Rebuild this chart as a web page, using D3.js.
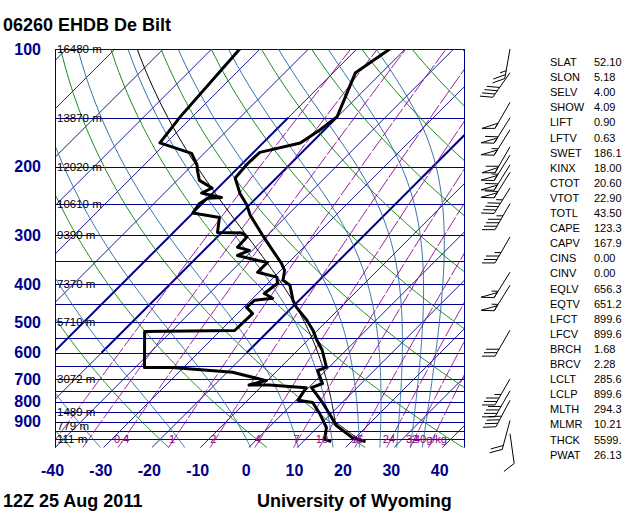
<!DOCTYPE html>
<html>
<head>
<meta charset="utf-8">
<script src="https://cdn.jsdelivr.net/npm/d3@7"></script>
<style>
  body { margin: 0; background: #fff; }
  text { font-family: "Liberation Sans", Arial, Helvetica, sans-serif; }
</style>
</head>
<body>
<svg id="chart" width="640" height="512"></svg>
<script>
// sounding 06260 De Bilt, 12Z 25 Aug 2011
var tempPres = [1013, 990, 922, 858, 804, 737, 719, 666, 654, 590, 557, 525, 495, 459, 440, 403, 391, 369, 354, 328, 300, 266, 251, 234, 214, 196, 184, 174, 161, 149, 115, 100];
var tempVals = [22.9, 19.4, 13.6, 9.6, 5.9, 0.6, 2.0, -1.7, -0.5, -5.0, -8.1, -11.0, -14.3, -19.1, -21.3, -25.0, -27.5, -29.2, -31.3, -35.8, -41.0, -47.8, -50.5, -54.4, -58.5, -58.9, -58.7, -52.3, -50.9, -50.1, -55.4, -53.2];

var dwptPres = [1013, 1000, 932, 858, 804, 794, 737, 725, 725, 707, 673, 654, 654, 529, 526, 476, 459, 440, 435, 423, 398, 384, 373, 352, 348, 338, 328, 322, 303, 296, 295, 270, 263, 249, 241, 240, 234, 227, 217, 204, 198, 185, 174, 149, 100];
var dwptVals = [15.8, 14.0, 11.9, 7.6, 3.9, 0.4, -0.5, -8.7, -12.9, -10.2, -18.9, -32.3, -38.1, -45.5, -27.1, -26.9, -29.4, -29.2, -25.9, -28.6, -28.0, -29.4, -34.4, -34.4, -36.8, -42.0, -40.6, -43.7, -43.9, -45.7, -50.9, -53.6, -60.0, -60.6, -60.0, -57.3, -62.3, -61.2, -65.4, -68.0, -69.1, -72.6, -81.3, -82.5, -84.2];

var windPres = [100, 115, 137, 150, 161, 178, 187, 198, 207, 227, 249, 303, 373, 403, 525, 700, 751, 794, 894, 967];
var windDir  = [190, 215, 210, 212, 212, 210, 212, 212, 212, 212, 210, 210, 212, 212, 210, 210, 210, 208, 195, 172];
var windKt   = [25, 40, 50, 60, 55, 60, 55, 60, 60, 45, 45, 35, 55, 55, 30, 35, 40, 40, 20, 10];

var presTicks = [100, 200, 300, 400, 500, 600, 700, 800, 900];
var tempTicks = [-40, -30, -20, -10, 0, 10, 20, 30, 40];
var hgtPres   = [100, 150, 200, 250, 300, 400, 500, 700, 850, 925, 1000];
var hgtLabels = ["16480 m", "13870 m", "12020 m", "10610 m", "9390 m", "7370 m", "5710 m", "3072 m", "1489 m", "779 m", "111 m"];
var mixRatios = [0.1, 0.2, 0.4, 1, 2, 4, 7, 10, 16, 24, 32, 40];
var mixLabels = ["", "", "0.4", "1", "2", "4", "7", "10", "16", "24", "32", "40g/kg"];
var boldIsotherms = [-60, -50, -20];

var statNames  = ["SLAT", "SLON", "SELV", "SHOW", "LIFT", "LFTV", "SWET", "KINX", "CTOT", "VTOT", "TOTL", "CAPE", "CAPV", "CINS", "CINV", "EQLV", "EQTV", "LFCT", "LFCV", "BRCH", "BRCV", "LCLT", "LCLP", "MLTH", "MLMR", "THCK", "PWAT"];
var statValues = ["52.10", "5.18", "4.00", "4.09", "0.90", "0.63", "186.1", "18.00", "20.60", "22.90", "43.50", "123.3", "167.9", "0.00", "0.00", "656.3", "651.2", "899.6", "899.6", "1.68", "2.28", "285.6", "899.6", "294.3", "10.21", "5599.", "26.13"];

var NAVY = "#00008c", GREEN = "#008000", STEEL = "#1e64a0", PURPLE = "#8c008c";

var svg = d3.select("#chart");
svg.append("rect").attr("width", 640).attr("height", 512).attr("fill", "#fff");

// plot box (window.top is reserved, so use plot* names)
var plotL = 55, plotR = 465, plotT = 49, plotB = 447.7;
var y = d3.scaleLog().domain([100, 1050]).range([plotT, plotB]);
var x = d3.scaleLinear().domain([-40, 40]).range([55, 442.2]);

// 45 degree skew
function sx(T, p) { return x(T) + (plotB - y(p)); }
var path = d3.line().x(function(d) { return sx(d[1], d[0]); }).y(function(d) { return y(d[0]); });

// thermodynamics for the background lines
function es(T) { return 6.112 * Math.exp(17.67 * T / (T + 243.5)); }
function tdFromE(e) { var l = Math.log(e / 6.112); return 243.5 * l / (17.67 - l); }
function thetaE(T, p) {
  var e = es(T);
  if (e > 0.8 * p) return Infinity;
  var r = 622 * e / (p - e), K = T + 273.15;
  return K * Math.pow(1000 / p, 0.2854 * (1 - 0.00028 * r)) * Math.exp((3.376 / K - 0.00254) * r * (1 + 0.00081 * r));
}
function tempOnThetaE(th, p) {
  var lo = -170, hi = 60;
  for (var i = 0; i < 50; i++) {
    var mid = (lo + hi) / 2;
    if (thetaE(mid, p) > th) hi = mid; else lo = mid;
  }
  return (lo + hi) / 2;
}

var pGrid = d3.range(1050, 99, -5);

svg.append("clipPath").attr("id", "plot")
  .append("rect").attr("x", plotL).attr("y", plotT).attr("width", plotR - plotL).attr("height", plotB - plotT);
var g = svg.append("g").attr("clip-path", "url(#plot)");

// isobars every 50 hPa
g.selectAll(".isobar").data(d3.range(100, 1051, 50)).enter().append("line")
  .attr("x1", plotL).attr("x2", plotR)
  .attr("y1", function(d) { return Math.round(y(d)) + 0.5; })
  .attr("y2", function(d) { return Math.round(y(d)) + 0.5; })
  .attr("stroke", NAVY).attr("stroke-width", 1);

// isotherms every 10 C, a few drawn heavier in the upper air
g.selectAll(".isotherm").data(d3.range(-130, 50, 10)).enter().append("path")
  .attr("d", function(t) { return path([[1050, t], [100, t]]); })
  .attr("fill", "none").attr("stroke", NAVY).attr("stroke-width", 0.9);
g.selectAll(".isotherm-bold").data(boldIsotherms).enter().append("path")
  .attr("d", function(t) { return path([[600, t], [150, t]]); })
  .attr("fill", "none").attr("stroke", NAVY).attr("stroke-width", 2);

// dry adiabats, theta in degC
g.selectAll(".dry").data(d3.range(-40, 200, 20)).enter().append("path")
  .attr("d", function(th) {
    return path(pGrid.map(function(p) { return [p, (th + 273.15) * Math.pow(p / 1000, 0.2854) - 273.15]; }));
  })
  .attr("fill", "none").attr("stroke", GREEN).attr("stroke-width", 0.9);

// moist adiabats, theta-e in K
g.selectAll(".moist").data(d3.range(240, 421, 20)).enter().append("path")
  .attr("d", function(th) {
    return path(pGrid.map(function(p) { return [p, tempOnThetaE(th, p)]; }));
  })
  .attr("fill", "none").attr("stroke", STEEL).attr("stroke-width", 0.9);

// mixing ratio lines
function mixTemp(w, p) { return tdFromE(p * w / (622 + w)); }
g.selectAll(".mix").data(mixRatios).enter().append("path")
  .attr("d", function(w) { return path(pGrid.map(function(p) { return [p, mixTemp(w, p)]; })); })
  .attr("fill", "none").attr("stroke", PURPLE).attr("stroke-width", 0.9)
  .attr("stroke-dasharray", "16,2");

// borders
svg.append("line").attr("x1", plotL + 0.5).attr("x2", plotL + 0.5).attr("y1", plotT).attr("y2", plotB)
  .attr("stroke", NAVY);
svg.append("line").attr("x1", plotR - 0.5).attr("x2", plotR - 0.5).attr("y1", plotT).attr("y2", plotB)
  .attr("stroke", NAVY);

// height labels
svg.selectAll(".hgt").data(hgtPres).enter().append("text")
  .attr("x", 57).attr("y", function(d) { return y(d) + 4; })
  .attr("font-size", 11.5).attr("fill", "#000")
  .text(function(d, i) { return hgtLabels[i]; });

// mixing ratio labels at 1000 hPa
svg.selectAll(".mixlab").data(mixRatios).enter().append("text")
  .attr("x", function(w) { return sx(mixTemp(w, 1000), 1000) - 2; })
  .attr("y", y(1000) + 4)
  .attr("text-anchor", "middle").attr("font-size", 11).attr("fill", PURPLE)
  .text(function(d, i) { return mixLabels[i]; });

// parcel path from the mixed layer values
var lclT = +statValues[statNames.indexOf("LCLT")] - 273.15;
var lclP = +statValues[statNames.indexOf("LCLP")];
var mlTh = +statValues[statNames.indexOf("MLTH")];
var parcel = [];
d3.range(tempPres[0], lclP, -5).forEach(function(p) {
  parcel.push([p, mlTh * Math.pow(p / 1000, 0.2854) - 273.15]);
});
var thE = thetaE(lclT, lclP);
parcel.push([lclP, lclT]);
d3.range(Math.floor(lclP / 5) * 5, 99, -5).forEach(function(p) {
  parcel.push([p, tempOnThetaE(thE, p)]);
});
g.append("path").attr("d", path(parcel))
  .attr("fill", "none").attr("stroke", "#000").attr("stroke-width", 1);

// temperature and dew point
var tempData = tempPres.map(function(p, i) { return [p, tempVals[i]]; });
var dwptData = dwptPres.map(function(p, i) { return [p, dwptVals[i]]; });
[tempData, dwptData].forEach(function(d) {
  g.append("path").attr("d", path(d))
    .attr("fill", "none").attr("stroke", "#000").attr("stroke-width", 3)
    .attr("stroke-linejoin", "round");
});

// axes
var yAxis = d3.axisLeft(y).tickValues(presTicks).tickSize(0).tickPadding(0)
  .tickFormat(function(d) { return String(d); });
var ya = svg.append("g").attr("transform", "translate(41,0)").call(yAxis);
ya.select(".domain").remove();
ya.selectAll("text").attr("font-size", 16).attr("font-weight", "bold").attr("fill", NAVY)
  .attr("font-family", "'Liberation Sans', Arial, sans-serif");

var xAxis = d3.axisBottom(x).tickValues(tempTicks).tickSize(0).tickPadding(0)
  .tickFormat(function(d) { return String(d); });
var xa = svg.append("g").attr("transform", "translate(-3,465)").call(xAxis);
xa.select(".domain").remove();
xa.selectAll("text").attr("font-size", 16).attr("font-weight", "bold").attr("fill", NAVY)
  .attr("font-family", "'Liberation Sans', Arial, sans-serif");

// wind barbs, staff points to where the wind comes from
function barb(px, py, dir, kt) {
  var a = dir * Math.PI / 180, L = 30, F = 13, s = 4;
  var ux = Math.sin(a), uy = -Math.cos(a);
  var c = Math.cos(Math.PI / 3), n = Math.sin(Math.PI / 3);
  var fx = ux * c - uy * n, fy = ux * n + uy * c;
  var bg = svg.append("g").attr("stroke", "#000").attr("stroke-width", 1).attr("fill", "none");
  bg.append("line").attr("x1", px).attr("y1", py).attr("x2", px + ux * L).attr("y2", py + uy * L);
  var k = Math.round(kt / 5) * 5, pos = L;
  var flags = Math.floor(k / 50); k -= flags * 50;
  var full = Math.floor(k / 10); k -= full * 10;
  var half = k >= 5;
  function at(d) { return [px + ux * d, py + uy * d]; }
  for (var i = 0; i < flags; i++) {
    var p0 = at(pos), p1 = at(pos - 6);
    bg.append("path").attr("d", "M" + p0 + "L" + [p0[0] + fx * F, p0[1] + fy * F] + "L" + p1 + "Z");
    pos -= 7.5;
  }
  for (i = 0; i < full; i++) {
    var q = at(pos);
    bg.append("line").attr("x1", q[0]).attr("y1", q[1]).attr("x2", q[0] + fx * F).attr("y2", q[1] + fy * F);
    pos -= s;
  }
  if (half) {
    if (pos === L) pos -= s;
    var h = at(pos);
    bg.append("line").attr("x1", h[0]).attr("y1", h[1]).attr("x2", h[0] + fx * F / 2).attr("y2", h[1] + fy * F / 2);
  }
}
windPres.forEach(function(p, i) { barb(510, y(p), windDir[i], windKt[i]); });

// station indices
var st = svg.append("g").attr("font-size", 11).attr("fill", "#000");
statNames.forEach(function(nm, i) {
  st.append("text").attr("x", 550).attr("y", 66 + i * 15.1).text(nm);
  st.append("text").attr("x", 594).attr("y", 66 + i * 15.1).text(statValues[i]);
});

// titles
svg.append("text").attr("x", 3).attr("y", 31).attr("font-size", 18).attr("font-weight", "bold")
  .text("06260 EHDB De Bilt");
svg.append("text").attr("x", 3).attr("y", 507).attr("font-size", 18).attr("font-weight", "bold")
  .text("12Z 25 Aug 2011");
svg.append("text").attr("x", 257).attr("y", 507).attr("font-size", 18).attr("font-weight", "bold")
  .text("University of Wyoming");
</script>
</body>
</html>
